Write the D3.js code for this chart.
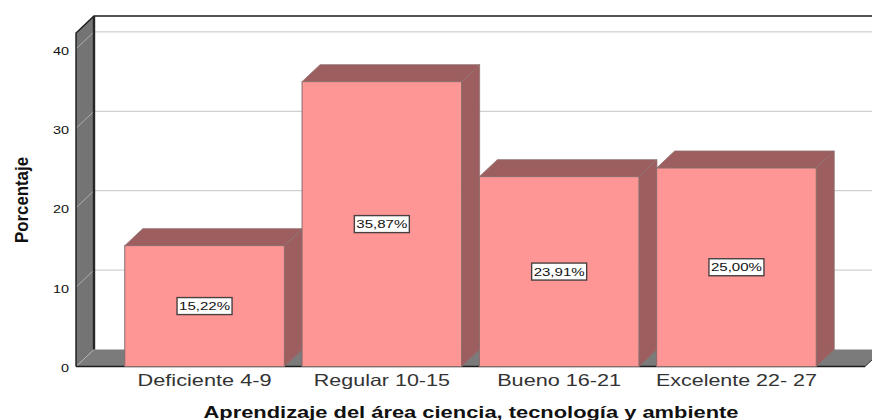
<!DOCTYPE html>
<html lang="en">
<head>
    <meta charset="UTF-8">
    <title>Aprendizaje</title>
    <style>
        html, body { margin: 0; padding: 0; background: #fff; overflow: hidden; }
        text { font-family: "Liberation Sans", Arial, sans-serif; }
    </style>
</head>
<body>
    <svg id="svg" width="872" height="420"></svg>

    <script src="https://d3js.org/d3.v7.min.js"></script>
    <script>
        const categories = ['Deficiente 4-9', 'Regular 10-15', 'Bueno 16-21', 'Excelente 22- 27']
        const values = [15.22, 35.87, 23.91, 25.00]
        const labels = ['15,22%', '35,87%', '23,91%', '25,00%']
        const yTicks = [0, 10, 20, 30, 40]
        const labelWidths = [134, 136, 124, 161]

        const svg = d3.select('#svg')

        // depth of the fake 3D box
        const dx = 18
        const dy = -17

        const xScale = d3.scaleBand()
            .domain(categories)
            .range([76, 865])
            .paddingInner(0.1)
            .paddingOuter(0.275)

        const yScale = d3.scaleLinear()
            .domain([0, 42])
            .range([366.5, 33])

        const poly = pts => pts.map(p => p.join(',')).join(' ')
        const y0 = yScale(0)
        const yTop = yScale(42)

        // back wall grid lines
        svg.selectAll('.grid')
            .data(yTicks.slice(1))
            .enter()
            .append('line')
            .attr('x1', 76 + dx)
            .attr('x2', 872)
            .attr('y1', d => yScale(d) + dy)
            .attr('y2', d => yScale(d) + dy)
            .attr('stroke', '#c4c4c4')
            .attr('stroke-width', 1)

        // floor
        svg.append('polygon')
            .attr('points', poly([[76, y0], [76 + dx, y0 + dy], [865 + dx, y0 + dy], [865, y0]]))
            .attr('fill', '#7b7b7b')

        // left wall
        svg.append('polygon')
            .attr('points', poly([[76, yTop], [76 + dx, yTop + dy], [76 + dx, y0 + dy], [76, y0]]))
            .attr('fill', '#747474')

        // diagonals across the wall
        svg.selectAll('.diag')
            .data(yTicks)
            .enter()
            .append('line')
            .attr('x1', 76)
            .attr('x2', 76 + dx)
            .attr('y1', d => yScale(d))
            .attr('y2', d => yScale(d) + dy)
            .attr('stroke', '#bdbdbd')
            .attr('stroke-width', 0.8)

        // box outline
        svg.append('path')
            .attr('d', `M76,${y0}V${yTop}L${76 + dx},${yTop + dy}H872`)
            .attr('fill', 'none')
            .attr('stroke', '#1c1c1c')
            .attr('stroke-width', 1.4)
        svg.append('line')
            .attr('x1', 76 + dx).attr('x2', 76 + dx)
            .attr('y1', yTop + dy).attr('y2', y0 + dy)
            .attr('stroke', '#262626')
            .attr('stroke-width', 2.4)
        svg.append('line')
            .attr('x1', 76).attr('x2', 865)
            .attr('y1', y0).attr('y2', y0)
            .attr('stroke', '#1c1c1c')
            .attr('stroke-width', 1.4)
        svg.append('line')
            .attr('x1', 865).attr('x2', 865 + dx)
            .attr('y1', y0).attr('y2', y0 + dy)
            .attr('stroke', '#333')
            .attr('stroke-width', 1)

        // bars
        const bars = svg.selectAll('.bar')
            .data(categories)
            .enter()
            .append('g')
            .attr('class', 'bar')

        const bw = xScale.bandwidth()
        const val = i => yScale(values[i])

        bars.append('polygon')
            .attr('points', (d, i) => poly([[xScale(d), val(i)], [xScale(d) + dx, val(i) + dy], [xScale(d) + bw + dx, val(i) + dy], [xScale(d) + bw, val(i)]]))
            .attr('fill', '#9c5e5e')
            .attr('stroke', '#8f7070')
            .attr('stroke-width', 0.8)

        bars.append('polygon')
            .attr('points', (d, i) => poly([[xScale(d) + bw, val(i)], [xScale(d) + bw + dx, val(i) + dy], [xScale(d) + bw + dx, y0 + dy], [xScale(d) + bw, y0]]))
            .attr('fill', '#9c5e5e')
            .attr('stroke', '#8f7070')
            .attr('stroke-width', 0.8)

        bars.append('rect')
            .attr('x', d => xScale(d))
            .attr('y', (d, i) => val(i))
            .attr('width', bw)
            .attr('height', (d, i) => y0 - val(i))
            .attr('fill', '#ff9696')
            .attr('stroke', '#8a6a6a')
            .attr('stroke-width', 1)

        // value boxes
        bars.append('rect')
            .attr('x', d => xScale(d) + bw / 2 - 27.5)
            .attr('y', (d, i) => (val(i) + y0) / 2 - 8.5)
            .attr('width', 55)
            .attr('height', 17)
            .attr('fill', '#fff')
            .attr('stroke', '#4a4040')
            .attr('stroke-width', 1.4)

        bars.append('text')
            .attr('x', d => xScale(d) + bw / 2)
            .attr('y', (d, i) => (val(i) + y0) / 2 + 4)
            .attr('text-anchor', 'middle')
            .attr('font-size', 11.5)
            .attr('textLength', 51)
            .attr('lengthAdjust', 'spacingAndGlyphs')
            .attr('fill', '#111')
            .text((d, i) => labels[i])

        // axes
        const yAxis = d3.axisLeft(yScale).tickValues(yTicks).tickSize(0).tickPadding(7)
        const yG = svg.append('g').attr('transform', 'translate(76,1.5)').call(yAxis)
        yG.select('.domain').remove()
        yG.selectAll('text')
            .attr('font-size', 11.5)
            .attr('fill', '#111')
            .attr('textLength', 16)
            .attr('lengthAdjust', 'spacingAndGlyphs')
        // the 0 tick is a single digit
        yG.selectAll('text').filter(d => d === 0).attr('textLength', 8)

        const xAxis = d3.axisBottom(xScale).tickSize(0).tickPadding(8)
        const xG = svg.append('g').attr('transform', `translate(0,${y0})`).call(xAxis)
        xG.select('.domain').remove()
        xG.selectAll('text')
            .attr('font-size', 16.5)
            .attr('fill', '#333')
            .attr('textLength', (d, i) => labelWidths[i])
            .attr('lengthAdjust', 'spacingAndGlyphs')

        // axis titles
        svg.append('text')
            .attr('transform', 'translate(27.5,200) rotate(-90)')
            .attr('text-anchor', 'middle')
            .attr('font-size', 18)
            .attr('font-weight', 'bold')
            .attr('textLength', 86)
            .attr('lengthAdjust', 'spacingAndGlyphs')
            .attr('fill', '#111')
            .text('Porcentaje')

        svg.append('text')
            .attr('x', 471)
            .attr('y', 418)
            .attr('text-anchor', 'middle')
            .attr('font-size', 16.5)
            .attr('font-weight', 'bold')
            .attr('textLength', 535)
            .attr('lengthAdjust', 'spacingAndGlyphs')
            .attr('fill', '#111')
            .text('Aprendizaje del área ciencia, tecnología y ambiente')
    </script>
</body>
</html>
